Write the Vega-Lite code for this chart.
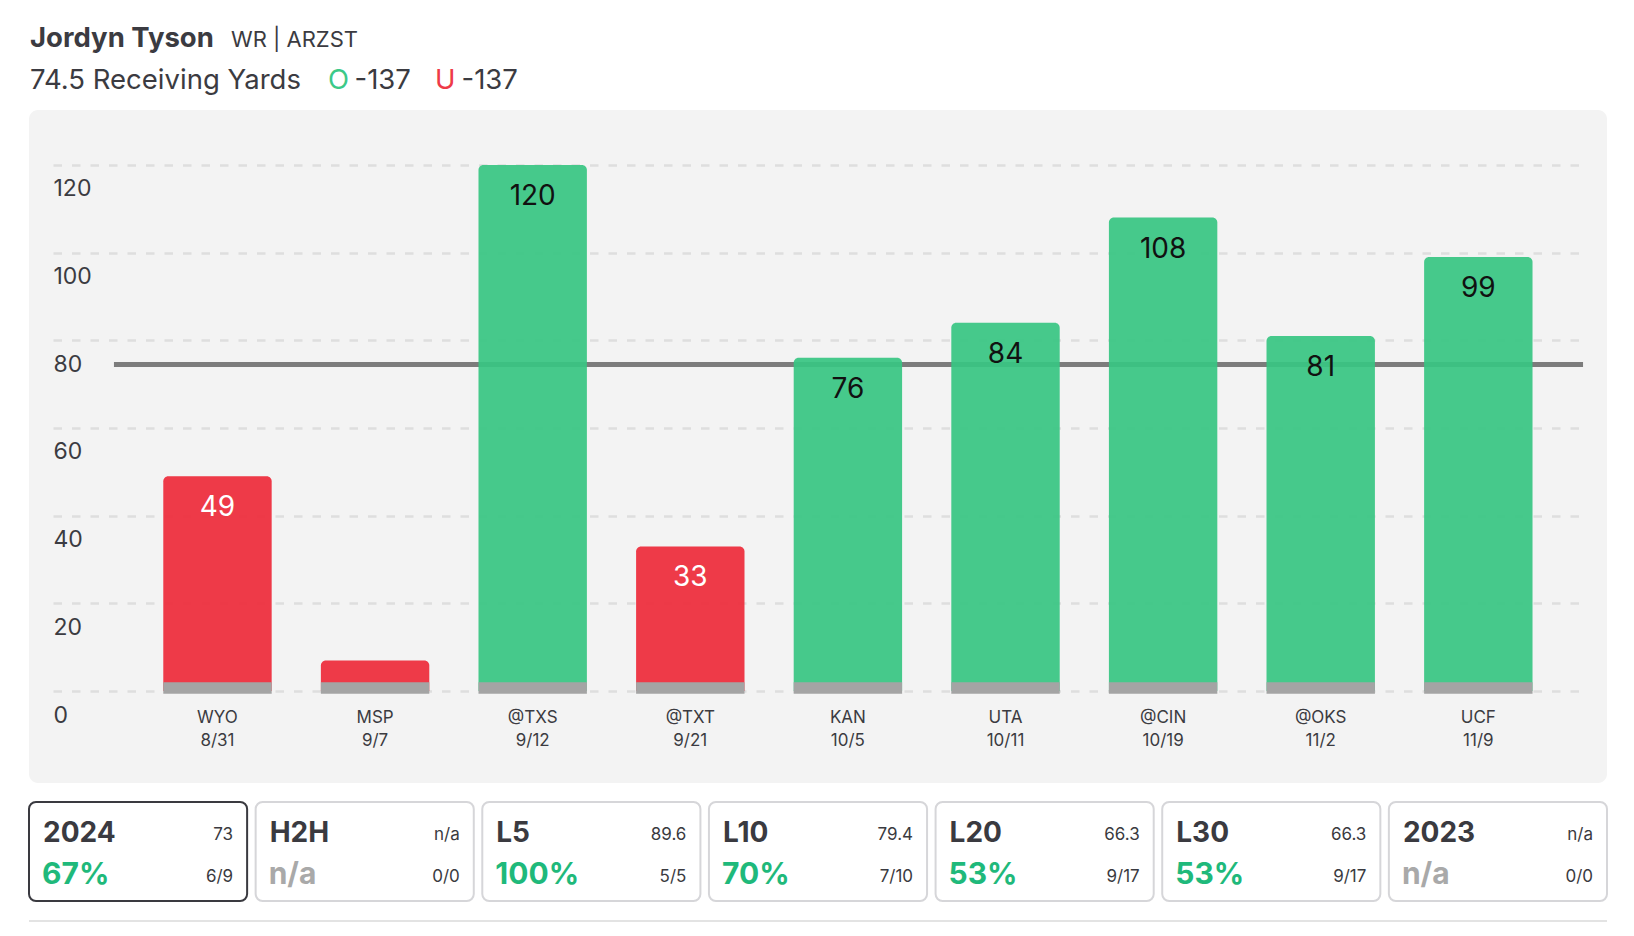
{
  "$schema": "https://vega.github.io/schema/vega-lite/v6.json",
  "background": "white",
  "padding": {"left": 28, "top": 0, "right": 0, "bottom": 0},
  "bounds": "flush",
  "spacing": 19,
  "config": {"view": {"stroke": null}, "font": "Inter", "text": {"font": "Inter"}},
  "datasets": {
    "header": [
      {"part": "name", "text": "Jordyn Tyson"},
      {"part": "meta", "text": "WR | ARZST"},
      {"part": "prop", "text": "74.5 Receiving Yards"},
      {"part": "over", "text": "O"},
      {"part": "overOdds", "text": "-137"},
      {"part": "under", "text": "U"},
      {"part": "underOdds", "text": "-137"}
    ],
    "games": [
      {"opp": "WYO", "date": "8/31", "yds": 49, "result": "Under"},
      {"opp": "MSP", "date": "9/7", "yds": 7, "result": "Under"},
      {"opp": "@TXS", "date": "9/12", "yds": 120, "result": "Over"},
      {"opp": "@TXT", "date": "9/21", "yds": 33, "result": "Under"},
      {"opp": "KAN", "date": "10/5", "yds": 76, "result": "Over"},
      {"opp": "UTA", "date": "10/11", "yds": 84, "result": "Over"},
      {"opp": "@CIN", "date": "10/19", "yds": 108, "result": "Over"},
      {"opp": "@OKS", "date": "11/2", "yds": 81, "result": "Over"},
      {"opp": "UCF", "date": "11/9", "yds": 99, "result": "Over"}
    ],
    "line": [{"line": 74.5}],
    "cards": [
      {"key": "2024", "avg": "73", "pct": "67%", "frac": "6/9", "active": true},
      {"key": "H2H", "avg": "n/a", "pct": "n/a", "frac": "0/0", "active": false},
      {"key": "L5", "avg": "89.6", "pct": "100%", "frac": "5/5", "active": false},
      {"key": "L10", "avg": "79.4", "pct": "70%", "frac": "7/10", "active": false},
      {"key": "L20", "avg": "66.3", "pct": "53%", "frac": "9/17", "active": false},
      {"key": "L30", "avg": "66.3", "pct": "53%", "frac": "9/17", "active": false},
      {"key": "2023", "avg": "n/a", "pct": "n/a", "frac": "0/0", "active": false}
    ]
  },
  "vconcat": [
    {
      "width": 1578,
      "height": 91,
      "data": {"name": "header"},
      "layer": [
        {
          "transform": [{"filter": "datum.part === 'name'"}],
          "mark": {"type": "text", "align": "left", "baseline": "alphabetic", "fontSize": 27.5, "fontWeight": "bold", "color": "#3b3b41", "dx": 1},
          "encoding": {"x": {"value": 0}, "y": {"datum": "line1", "type": "ordinal", "scale": {"type": "point", "domain": ["line1", "line2"], "range": [46.8, 88.8], "padding": 0}, "axis": null}, "text": {"field": "text"}}
        },
        {
          "transform": [{"filter": "datum.part === 'meta'"}],
          "mark": {"type": "text", "align": "left", "baseline": "alphabetic", "fontSize": 22, "color": "#3b3b41", "dx": 202},
          "encoding": {"x": {"value": 0}, "y": {"datum": "line1", "type": "ordinal"}, "text": {"field": "text"}}
        },
        {
          "transform": [{"filter": "datum.part === 'prop'"}],
          "mark": {"type": "text", "align": "left", "baseline": "alphabetic", "fontSize": 27.5, "color": "#3b3b41", "dx": 1},
          "encoding": {"x": {"value": 0}, "y": {"datum": "line2", "type": "ordinal"}, "text": {"field": "text"}}
        },
        {
          "transform": [{"filter": "datum.part === 'over'"}],
          "mark": {"type": "text", "align": "left", "baseline": "alphabetic", "fontSize": 27.5, "color": "#3cc988", "dx": 299},
          "encoding": {"x": {"value": 0}, "y": {"datum": "line2", "type": "ordinal"}, "text": {"field": "text"}}
        },
        {
          "transform": [{"filter": "datum.part === 'overOdds'"}],
          "mark": {"type": "text", "align": "left", "baseline": "alphabetic", "fontSize": 27.5, "color": "#3b3b41", "dx": 325.5},
          "encoding": {"x": {"value": 0}, "y": {"datum": "line2", "type": "ordinal"}, "text": {"field": "text"}}
        },
        {
          "transform": [{"filter": "datum.part === 'under'"}],
          "mark": {"type": "text", "align": "left", "baseline": "alphabetic", "fontSize": 27.5, "color": "#ee3a48", "dx": 406},
          "encoding": {"x": {"value": 0}, "y": {"datum": "line2", "type": "ordinal"}, "text": {"field": "text"}}
        },
        {
          "transform": [{"filter": "datum.part === 'underOdds'"}],
          "mark": {"type": "text", "align": "left", "baseline": "alphabetic", "fontSize": 27.5, "color": "#3b3b41", "dx": 432.5},
          "encoding": {"x": {"value": 0}, "y": {"datum": "line2", "type": "ordinal"}, "text": {"field": "text"}}
        }
      ]
    },
    {
      "width": 1578,
      "height": 673,
      "view": {"fill": "#f3f3f3", "cornerRadius": 9, "stroke": null},
      "data": {"name": "games"},
      "layer": [
        {
          "data": {"name": "line"},
          "mark": {"type": "rule", "color": "#7c7c7c", "strokeWidth": 5},
          "encoding": {
            "x": {"datum": "WYO", "type": "nominal", "bandPosition": -0.455, "scale": {"domain": ["WYO", "MSP", "@TXS", "@TXT", "KAN", "UTA", "@CIN", "@OKS", "UCF"], "range": [24, 1554], "paddingInner": 0.3122, "paddingOuter": 0.51, "align": 0.686, "round": false}, "axis": null},
            "x2": {"datum": "UCF", "bandPosition": 1.466},
            "y": {"field": "line", "type": "quantitative"}
          }
        },
        {
          "mark": {"type": "bar", "cornerRadiusTopLeft": 5, "cornerRadiusTopRight": 5, "opacity": 0.92},
          "encoding": {
            "x": {"field": "opp", "type": "nominal", "axis": null},
            "y": {
              "field": "yds", "type": "quantitative",
              "scale": {"domain": [-20.96, 132.52], "nice": false, "zero": false},
              "axis": {"values": [0, 20, 40, 60, 80, 100, 120], "grid": true, "gridDash": [8.5, 10], "gridColor": "#dedede", "gridWidth": 2.5, "domain": false, "ticks": false, "tickSize": 0, "labelAlign": "left", "labelPadding": -24, "labelOffset": 24, "labelFontSize": 23, "labelColor": "#3b3b41", "labelFont": "Inter", "labelBaseline": "middle", "title": null}
            },
            "y2": {"datum": 0},
            "color": {"field": "result", "type": "nominal", "scale": {"domain": ["Over", "Under"], "range": ["#37c582", "#ee2a39"]}, "legend": null}
          }
        },
        {
          "mark": {"type": "bar", "color": "#a4a4a4"},
          "encoding": {
            "x": {"field": "opp", "type": "nominal"},
            "y": {"datum": 2.0, "type": "quantitative"},
            "y2": {"datum": -0.6}
          }
        },
        {
          "transform": [{"filter": "datum.yds >= 20"}],
          "mark": {"type": "text", "baseline": "middle", "dy": 32, "fontSize": 28},
          "encoding": {
            "x": {"field": "opp", "type": "nominal"},
            "y": {"field": "yds", "type": "quantitative"},
            "text": {"field": "yds"},
            "color": {"condition": {"test": "datum.result === 'Under'", "value": "#ffffff"}, "value": "#111111"}
          }
        },
        {
          "mark": {"type": "text", "baseline": "middle", "fontSize": 17, "color": "#3b3b41"},
          "encoding": {
            "x": {"field": "opp", "type": "nominal"},
            "y": {"datum": -6.2, "type": "quantitative"},
            "text": {"field": "opp"}
          }
        },
        {
          "mark": {"type": "text", "baseline": "middle", "fontSize": 17, "color": "#3b3b41"},
          "encoding": {
            "x": {"field": "opp", "type": "nominal"},
            "y": {"datum": -11.4, "type": "quantitative"},
            "text": {"field": "date"}
          }
        }
      ]
    },
    {
      "width": 1578,
      "height": 99,
      "data": {"name": "cards"},
      "layer": [
        {
          "mark": {"type": "rect", "fill": "#ffffff", "cornerRadius": 7, "strokeWidth": 2},
          "encoding": {
            "x": {"field": "key", "type": "nominal", "scale": {"domain": ["2024", "H2H", "L5", "L10", "L20", "L30", "2023"], "paddingInner": 0.0376, "paddingOuter": 0, "round": false}, "axis": null},
            "stroke": {"condition": {"test": "datum.active", "value": "#3a3a40"}, "value": "#d6d6d9"}
          }
        },
        {
          "mark": {"type": "text", "align": "left", "baseline": "alphabetic", "dx": 14, "fontSize": 28, "fontWeight": "bold", "color": "#3a3a40"},
          "encoding": {
            "x": {"field": "key", "type": "nominal", "bandPosition": 0},
            "y": {"datum": "top", "type": "ordinal", "scale": {"type": "point", "domain": ["top", "bottom"], "range": [39.5, 81.5], "padding": 0}, "axis": null},
            "text": {"field": "key"}
          }
        },
        {
          "mark": {"type": "text", "align": "left", "baseline": "alphabetic", "dx": 13, "fontSize": 30, "fontWeight": "bold"},
          "encoding": {
            "x": {"field": "key", "type": "nominal", "bandPosition": 0},
            "y": {"datum": "bottom", "type": "ordinal"},
            "text": {"field": "pct"},
            "color": {"condition": {"test": "datum.pct === 'n/a'", "value": "#a9a9a9"}, "value": "#1fb97b"}
          }
        },
        {
          "mark": {"type": "text", "align": "right", "baseline": "alphabetic", "dx": -14, "dy": -2, "fontSize": 17, "color": "#3a3a40"},
          "encoding": {
            "x": {"field": "key", "type": "nominal", "bandPosition": 1},
            "y": {"datum": "top", "type": "ordinal"},
            "text": {"field": "avg"}
          }
        },
        {
          "mark": {"type": "text", "align": "right", "baseline": "alphabetic", "dx": -14, "dy": -2, "fontSize": 17, "color": "#3a3a40"},
          "encoding": {
            "x": {"field": "key", "type": "nominal", "bandPosition": 1},
            "y": {"datum": "bottom", "type": "ordinal"},
            "text": {"field": "frac"}
          }
        }
      ]
    },
    {
      "width": 1578,
      "height": 2,
      "data": {"values": [{"v": 0}]},
      "mark": {"type": "rule", "color": "#e3e3e3", "strokeWidth": 2},
      "encoding": {"y": {"field": "v", "type": "quantitative", "scale": {"domain": [-1, 1]}, "axis": null}}
    }
  ]
}
